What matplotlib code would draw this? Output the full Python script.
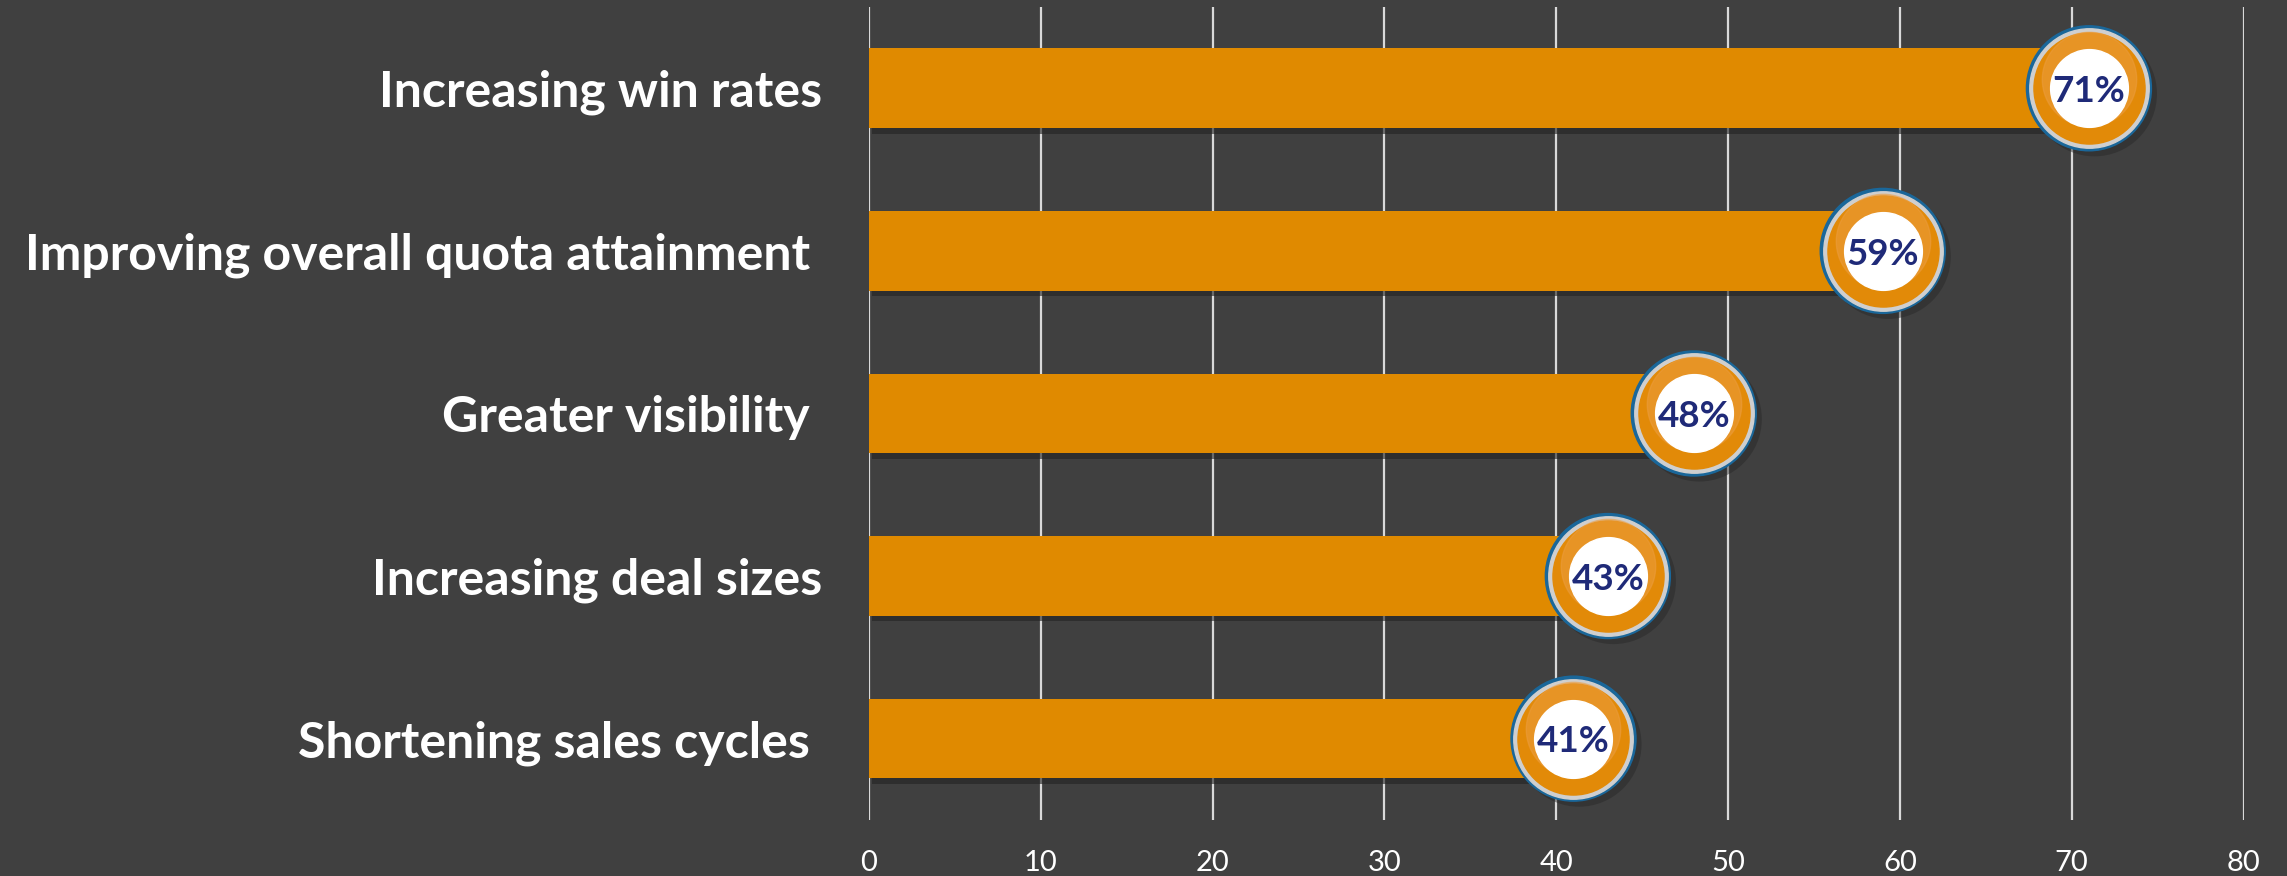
import matplotlib
matplotlib.use("Agg")
import matplotlib.pyplot as plt
import matplotlib.patheffects as pe

categories = [
    "Increasing win rates",
    "Improving overall quota attainment ",
    "Greater visibility ",
    "Increasing deal sizes",
    "Shortening sales cycles ",
]
values = [71, 59, 48, 43, 41]
xticks = [0, 10, 20, 30, 40, 50, 60, 70, 80]

bg = "#404040"
orange = "#E08A00"

fig = plt.figure(figsize=(22.87, 8.76), dpi=100, facecolor=bg)
ax = fig.add_axes([0.380, 0.064, 0.601, 0.928], facecolor=bg)

ypos = list(range(len(categories)))
bars = ax.barh(ypos, values, height=0.49, color=orange, zorder=2)
for b in bars:
    b.set_path_effects([pe.SimplePatchShadow(offset=(2, -4), shadow_rgbFace="#222222", alpha=0.6),
                        pe.Normal()])

ax.set_xlim(0, 80)
ax.set_ylim(len(categories) - 0.5, -0.5)
ax.set_xticks(xticks)
ax.set_yticks(ypos)
ax.set_yticklabels(categories)
ax.grid(axis="x", color="#d9d9d9", linewidth=1.6, zorder=1)
ax.set_axisbelow(True)
for s in ax.spines.values():
    s.set_visible(False)
ax.tick_params(axis="both", length=0)
ax.tick_params(axis="x", pad=22, labelsize=21, labelcolor="white")
ax.tick_params(axis="y", pad=34, labelsize=36, labelcolor="white")
for t in ax.get_yticklabels():
    t.set_fontfamily("Lato")
    t.set_fontweight("bold")
for t in ax.get_xticklabels():
    t.set_fontfamily("Lato")

# percentage badges
d = 90  # outer diameter in points
ax.scatter(values, ypos, s=d ** 2, color="#1a679a", zorder=3, clip_on=False,
           path_effects=[pe.SimplePatchShadow(offset=(4, -4), shadow_rgbFace="#262626", alpha=0.45),
                         pe.Normal()])
ax.scatter(values, ypos, s=(d - 4) ** 2, color="#cfcfcf", zorder=4, clip_on=False)
ax.scatter(values, ypos, s=(d - 10) ** 2, color="#E28A08", zorder=5, clip_on=False)
ax.scatter(values, [y - 0.06 for y in ypos], s=(d - 22) ** 2,
           color="#EC9E42", alpha=0.5, zorder=5, clip_on=False)
ax.scatter(values, ypos, s=(d - 34) ** 2, color="white", zorder=6, clip_on=False)
for v, y in zip(values, ypos):
    ax.text(v, y + 0.02, f"{v}%", ha="center", va="center", fontsize=26.5, fontweight="bold",
            fontfamily="Lato", color="#1f2a78", zorder=7)

fig.savefig("out.png", dpi=100, facecolor=bg)
